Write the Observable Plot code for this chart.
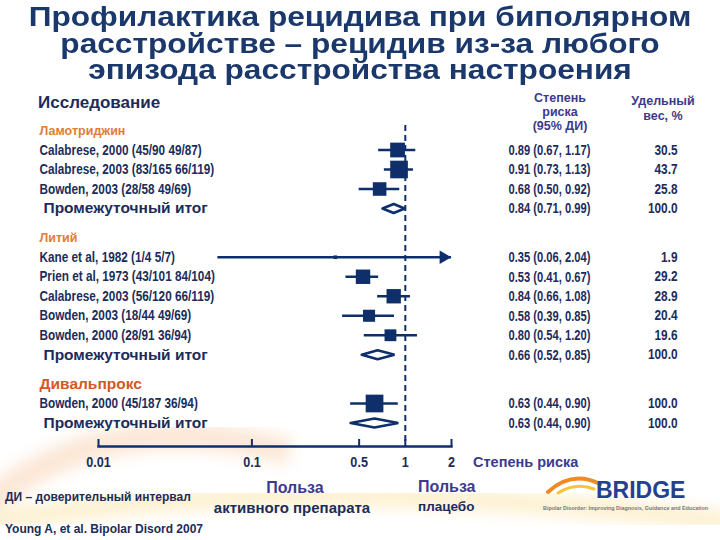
<!DOCTYPE html>
<html>
<head>
<meta charset="utf-8">
<script src="https://cdn.jsdelivr.net/npm/d3@7"></script>
<script src="https://cdn.jsdelivr.net/npm/@observablehq/plot@0.6"></script>
<style>
  html, body { margin: 0; padding: 0; background: #fff; }
  #wrap { position: relative; width: 720px; height: 540px; overflow: hidden; background: #fff;
          font-family: 'Liberation Sans', Arial, sans-serif; }
  .abs { position: absolute; white-space: nowrap; font-weight: bold; }
  .tline { left: 0; width: 720px; text-align: center; font-size: 28px; line-height: 26px; height: 26px; color: #1a386b;
           transform: scaleX(1.13); transform-origin: 360px 50%; }
  #chart { position: absolute; left: 0; top: 84px; }
</style>
</head>
<body>
<div id="wrap">
  <svg class="abs" style="left:0;top:0" width="720" height="540">
    <defs><filter id="blur"><feGaussianBlur stdDeviation="8"/></filter></defs>
    <path d="M -30 520 Q 90 400 290 452" fill="none" stroke="#f7c9a2" stroke-width="26" opacity="0.45" filter="url(#blur)"/>
    <path d="M -10 522 Q 300 470 730 522" fill="none" stroke="#fbe3a4" stroke-width="20" opacity="0.55" filter="url(#blur)"/>
  </svg>

  <div class="abs tline" style="top:4px">Профилактика рецидива при биполярном</div>
  <div class="abs tline" style="top:31px">расстройстве – рецидив из-за любого</div>
  <div class="abs tline" style="top:57px">эпизода расстройства настроения</div>

  <div class="abs" style="left:38px;top:93px;font-size:17px;line-height:20px;color:#1c2c5a">Исследование</div>
  <div class="abs" style="left:500px;width:120px;top:91px;text-align:center;font-size:12.5px;line-height:14px;color:#3b3a8e">Степень<br>риска<br>(95% ДИ)</div>
  <div class="abs" style="left:613px;width:100px;top:93.5px;text-align:center;font-size:12.5px;line-height:15px;color:#3b3a8e">Удельный<br>вес, %</div>

  <div id="chart"></div>

  <div class="abs" style="left:473px;top:453px;font-size:14.5px;line-height:18px;color:#3b3a8e">Степень риска</div>
  <div class="abs" style="left:195px;width:200px;top:478px;text-align:center;font-size:16px;line-height:20px;color:#3b3a8e">Польза</div>
  <div class="abs" style="left:192px;width:200px;top:498px;text-align:center;font-size:15px;line-height:20px;color:#1c2c5a">активного препарата</div>
  <div class="abs" style="left:418px;top:477px;font-size:16px;line-height:20px;color:#3b3a8e">Польза</div>
  <div class="abs" style="left:418px;top:498px;font-size:13.5px;line-height:18px;color:#1c2c5a">плацебо</div>
  <div class="abs" style="left:5px;top:489px;font-size:12px;line-height:16px;color:#1c2c5a">ДИ – доверительный интервал</div>
  <div class="abs" style="left:5px;top:521px;font-size:12px;line-height:16px;color:#1c2c5a">Young A, et al. Bipolar Disord 2007</div>

  <svg class="abs" style="left:536px;top:468px" width="184" height="50">
    <path d="M 12 24 Q 36 2 64 16" fill="none" stroke="#f08a24" stroke-width="4" stroke-linecap="round"/>
    <path d="M 22 25 Q 40 14 58 21" fill="none" stroke="#f7c33c" stroke-width="3" stroke-linecap="round"/>
    <text x="60" y="30" font-family="'Liberation Sans', Arial, sans-serif" font-weight="bold" font-size="23" fill="#25408f">BRIDGE</text>
    <text x="7" y="42" font-family="'Liberation Sans', Arial, sans-serif" font-size="5.4" fill="#777">Bipolar Disorder: Improving Diagnosis, Guidance and Education</text>
  </svg>
</div>

<script>
// ---------- data ----------
const groupNames = ["Ламотриджин", "Литий", "Дивальпрокс"];
const studyNames = [
  "Calabrese, 2000 (45/90 49/87)",
  "Calabrese, 2003 (83/165 66/119)",
  "Bowden, 2003 (28/58 49/69)",
  "Kane et al, 1982 (1/4 5/7)",
  "Prien et al, 1973 (43/101 84/104)",
  "Calabrese, 2003 (56/120 66/119)",
  "Bowden, 2003 (18/44 49/69)",
  "Bowden, 2000 (28/91 36/94)",
  "Bowden, 2000 (45/187 36/94)"
];
const studyGroup = [0, 0, 0, 1, 1, 1, 1, 1, 2];
const studyHR = [0.89, 0.91, 0.68, 0.35, 0.53, 0.84, 0.58, 0.80, 0.63];
const studyLo = [0.67, 0.73, 0.50, 0.06, 0.41, 0.66, 0.39, 0.54, 0.44];
const studyHi = [1.17, 1.13, 0.92, 2.04, 0.67, 1.08, 0.85, 1.20, 0.90];
const studyWeight = [30.5, 43.7, 25.8, 1.9, 29.2, 28.9, 20.4, 19.6, 100.0];
const subtotalLabel = "Промежуточный итог";
const subHR = [0.84, 0.66, 0.63];
const subLo = [0.71, 0.52, 0.44];
const subHi = [0.99, 0.85, 0.90];
const subWeight = [100.0, 100.0, 100.0];
const axisTicks = [0.01, 0.1, 0.5, 1, 2];
const axisTickLabels = ["0.01", "0.1", "0.5", "1", "2"];

// ---------- layout of rows (computed) ----------
const headerRows = [], studyRows = [], subRows = [];
let pos = 0;
groupNames.forEach((g, gi) => {
  if (gi > 0) pos += 1.5;
  headerRows.push({ row: pos, label: g, gi });
  studyNames.forEach((n, i) => {
    if (studyGroup[i] !== gi) return;
    pos += 1;
    studyRows.push({ row: pos, name: n, hr: studyHR[i], lo: studyLo[i], hi: studyHi[i], weight: studyWeight[i] });
  });
  pos += 1;
  subRows.push({ row: pos, hr: subHR[gi], lo: subLo[gi], hi: subHi[gi], weight: subWeight[gi], g: gi });
});
const xMax = axisTicks[axisTicks.length - 1];
const fmt = d3.format(".2f");
const ciLabel = d => `${fmt(d.hr)} (${fmt(d.lo)}, ${fmt(d.hi)})`;
const wLabel = d => d3.format(".1f")(d.weight);
const allRows = [...studyRows, ...subRows];
const h = 0.23;
const diamondPts = subRows.flatMap(d => [
  { g: d.g, x: d.lo, y: d.row }, { g: d.g, x: d.hr, y: d.row - h },
  { g: d.g, x: d.hi, y: d.row }, { g: d.g, x: d.hr, y: d.row + h },
  { g: d.g, x: d.lo, y: d.row }
]);

const navy = "#0f2f6b";
const textNavy = "#1c2c5a";
const sans = "'Liberation Sans', Arial, sans-serif";

const chart = Plot.plot({
  width: 720,
  height: 456,
  marginTop: 41,
  marginBottom: 94,
  marginLeft: 98,
  marginRight: 269,
  x: { type: "log", domain: [0.01, xMax] },
  y: { domain: [0, 15], range: [46, 338.5], axis: null },
  r: { type: "sqrt", domain: [0, 44], range: [0, 10], clamp: true },
  style: { fontFamily: sans, color: textNavy, background: "transparent", overflow: "visible" },
  marks: [
    Plot.ruleX([1], { stroke: navy, strokeWidth: 2, strokeDasharray: "6,4" }),
    Plot.frame({ anchor: "bottom", stroke: navy, strokeWidth: 2.5 }),
    Plot.ruleX(axisTicks, { x: d => d, insetTop: 314, stroke: navy, strokeWidth: 2 }),
    Plot.axisX({ ticks: axisTicks, tickFormat: d => axisTickLabels[axisTicks.indexOf(d)], tickSize: 0, tickPadding: 10,
      label: null, fontSize: 15.2, fontWeight: "bold", fill: textNavy }),
    Plot.ruleY(studyRows, { y: "row", x1: "lo", x2: d => Math.min(d.hi, xMax), stroke: navy, strokeWidth: 2.5 }),
    Plot.dot(studyRows.filter(d => d.hi > xMax), { x: () => xMax, y: "row", symbol: "triangle", rotate: 90, r: 5, fill: navy, stroke: "none", dx: -8 }),
    Plot.dot(studyRows, { x: "hr", y: "row", r: "weight", symbol: "square", fill: navy, stroke: "none" }),
    Plot.line(diamondPts, { x: "x", y: "y", z: "g", stroke: navy, strokeWidth: 2.6, strokeLinejoin: "miter" }),
    Plot.text(headerRows.filter(d => d.gi < 2), { y: "row", text: "label", frameAnchor: "left", textAnchor: "start", dx: -59,
      fill: "#e27c36", fontSize: 12.5, fontWeight: "bold" }),
    Plot.text(headerRows.filter(d => d.gi === 2), { y: "row", text: "label", frameAnchor: "left", textAnchor: "start", dx: -59,
      fill: "#d4581f", fontSize: 15.5, fontWeight: "bold" }),
    Plot.text(studyRows, { y: "row", text: "name", frameAnchor: "left", textAnchor: "start", dx: -59,
      fill: textNavy, fontSize: 14.2, fontWeight: "bold" }),
    Plot.text(subRows, { y: "row", text: () => subtotalLabel, frameAnchor: "left", textAnchor: "start", dx: -55,
      fill: textNavy, fontSize: 15.5, fontWeight: "bold" }),
    Plot.text(allRows, { y: "row", text: ciLabel, frameAnchor: "right", textAnchor: "start", dx: 57,
      fill: textNavy, fontSize: 15, fontWeight: "bold" }),
    Plot.text(allRows, { y: "row", text: wLabel, frameAnchor: "right", textAnchor: "end", dx: 226,
      fill: textNavy, fontSize: 14.8, fontWeight: "bold" })
  ]
});
document.getElementById("chart").appendChild(chart);

// condense narrow-style texts horizontally (no narrow font installed)
function squeeze(sel, k) {
  chart.querySelectorAll(sel).forEach(t => {
    let tr = t.getAttribute("transform");
    if (!tr) {
      const x = t.getAttribute("x") || 0, y = t.getAttribute("y") || 0;
      t.removeAttribute("x"); t.removeAttribute("y");
      tr = `translate(${x},${y})`;
    }
    t.setAttribute("transform", tr + ` scale(${k},1)`);
  });
}
squeeze('g[font-size="14.2"] text', 0.83);
squeeze('g[font-size="15"] text', 0.745);
squeeze('g[font-size="14.8"] text', 0.8);
squeeze('g[font-size="15.2"] text', 0.83);
</script>
</body>
</html>
